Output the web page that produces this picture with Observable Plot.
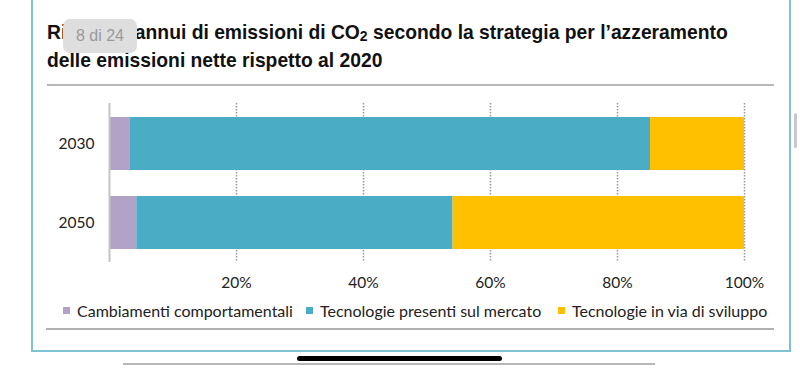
<!DOCTYPE html>
<html>
<head>
<meta charset="utf-8">
<script src="https://cdn.jsdelivr.net/npm/d3@7"></script>
<script src="https://cdn.jsdelivr.net/npm/@observablehq/plot@0.6"></script>
<style>
  html, body { margin: 0; padding: 0; background: #fff; width: 800px; height: 369px; overflow: hidden; }
  #page { position: relative; width: 800px; height: 369px; }
  .abs { position: absolute; }
  #title { left: 47px; top: 19px; width: 740px; font-family: "Liberation Sans", Arial, sans-serif; font-weight: bold; font-size: 19.3px; line-height: 28px; color: #111; white-space: nowrap; }
  #title sub { font-size: 14px; vertical-align: -2px; line-height: 0; }
  #badge { left: 63px; top: 19px; width: 74px; height: 34px; border-radius: 7px; background: #dedede; color: #9a9a9a; font-family: "Liberation Sans", Arial, sans-serif; font-size: 16px; line-height: 34px; text-align: center; }
  .item { position: absolute; top: 300px; height: 20px; font-family: "Lato", "Open Sans", sans-serif; font-size: 16px; color: #222; display: flex; align-items: center; white-space: nowrap; }
  .sw { width: 7px; height: 7px; margin-right: 7px; }
</style>
</head>
<body>
<div id="page">
  <div class="abs" style="left:31px;top:0;width:2px;height:352px;background:#7fc3d3"></div>
  <div class="abs" style="left:789px;top:0;width:2px;height:352px;background:#7fc3d3"></div>
  <div class="abs" style="left:31px;top:350px;width:760px;height:2px;background:#7fc3d3"></div>
  <div class="abs" style="left:794px;top:113px;width:3px;height:35px;background:#c8c8c8;border-radius:2px"></div>
  <div id="title" class="abs">Risparmi annui di emissioni di CO<sub>2</sub> secondo la strategia per l’azzeramento<br>delle emissioni nette rispetto al 2020</div>
  <div id="badge" class="abs">8 di 24</div>
  <div class="abs" style="left:47px;top:84px;width:727px;height:2px;background:#b8b8b8"></div>
  <div id="chart" class="abs" style="left:0;top:90px"></div>
  <div id="legend"></div>
  <div class="abs" style="left:46px;top:328px;width:728px;height:2px;background:#b0b0b0"></div>
  <div class="abs" style="left:297px;top:356px;width:205px;height:5px;border-radius:3px;background:#000"></div>
  <div class="abs" style="left:123px;top:363px;width:532px;height:2px;background:#b8b8b8"></div>
</div>
<script>
const years = ["2030", "2050"];
const categories = ["Cambiamenti comportamentali", "Tecnologie presenti sul mercato", "Tecnologie in via di sviluppo"];
const behavioural = [3.3, 4.3];
const marketTech = [81.9, 49.8];
const devTech = [14.8, 45.9];
const xTicks = [20, 40, 60, 80, 100];
const colors = ["#b3a2c7", "#4bacc6", "#ffc000"];
const legendLeft = [63, 306, 558];

const series = [behavioural, marketTech, devTech];
const data = [];
years.forEach((y, i) => categories.forEach((c, j) => data.push({year: y, category: c, value: series[j][i]})));

const chart = Plot.plot({
  width: 800,
  height: 209,
  marginLeft: 109,
  marginRight: 56,
  marginTop: 13,
  marginBottom: 37,
  style: {fontFamily: "Lato, 'Open Sans', sans-serif", fontSize: "15.5px", color: "#222", background: "transparent"},
  x: {domain: [0, 100], ticks: xTicks, tickFormat: d => d + "%", label: null},
  y: {domain: years, paddingInner: 0.33, paddingOuter: 0.165, label: null},
  color: {domain: categories, range: colors},
  marks: [
    Plot.ruleX(xTicks, {x: d => d, stroke: "#999", strokeWidth: 1.5, strokeDasharray: "1.5,1.5"}),
    Plot.barX(data, Plot.stackX({x: "value", y: "year", fill: "category", order: categories})),
    Plot.ruleX([0], {stroke: "#c4c4c4", strokeWidth: 2}),
    Plot.axisX({ticks: xTicks, tickFormat: d => d + "%", tickSize: 0, tickPadding: 14, label: null}),
    Plot.axisY({tickSize: 0, tickPadding: 15, label: null})
  ]
});
document.getElementById("chart").appendChild(chart);

const legend = document.getElementById("legend");
categories.forEach((c, i) => {
  const it = document.createElement("div");
  it.className = "item";
  it.style.left = legendLeft[i] + "px";
  const sw = document.createElement("div");
  sw.className = "sw";
  sw.style.background = colors[i];
  const t = document.createElement("span");
  t.textContent = c;
  it.appendChild(sw);
  it.appendChild(t);
  legend.appendChild(it);
});
</script>
</body>
</html>
